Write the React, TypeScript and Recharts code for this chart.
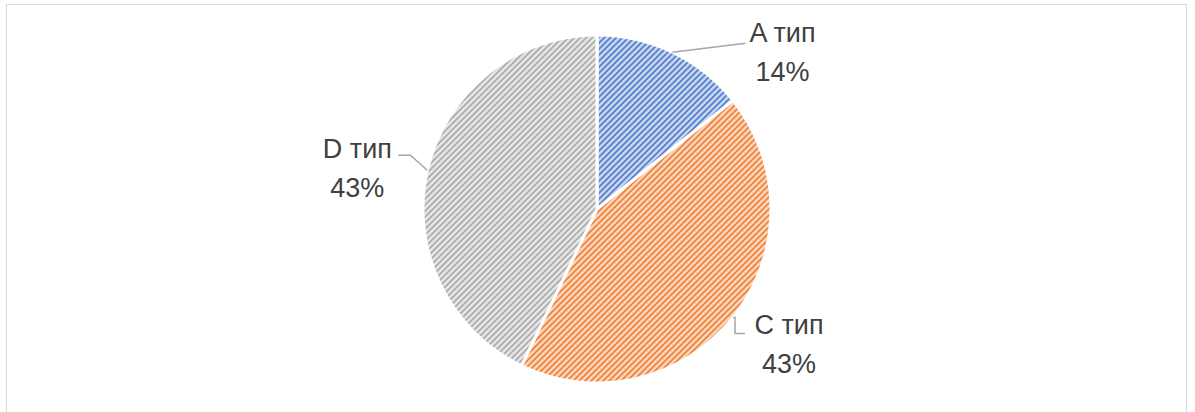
import { PieChart, Pie, Cell } from "recharts";

const categories = ["A тип", "C тип", "D тип"];
const values = [1, 3, 3];

const chartData = categories.map((name, i) => ({ name, value: values[i] }));

const fills = ["url(#hatchBlue)", "url(#hatchOrange)", "url(#hatchGray)"];

const RADIAN = Math.PI / 180;

// leader line + text placement, relative to the slice's outer edge point
const labelLayout = [
  { line: [[73, -9]], tx: 110, ty: -10 },
  { line: [[2, 0], [2, 16], [12, 16]], tx: 56, ty: 17 },
  { line: [[-17, -15], [-29, -15]], tx: -70, ty: -12 },
];

const renderLabel = (props: any) => {
  const { cx, cy, midAngle, outerRadius, index, percent, name } = props;
  const x0 = cx + outerRadius * Math.cos(-midAngle * RADIAN);
  const y0 = cy + outerRadius * Math.sin(-midAngle * RADIAN);
  const lay = labelLayout[index];
  const pts = [[0, 0], ...lay.line].map(([dx, dy]) => `${x0 + dx},${y0 + dy}`).join(" ");
  return (
    <g key={`lbl-${index}`}>
      <polyline points={pts} fill="none" stroke="#a6a6a6" strokeWidth={1.5} />
      <text
        x={x0 + lay.tx}
        y={y0 + lay.ty}
        textAnchor="middle"
        fill="#404040"
        fontSize={27}
        fontFamily="'Liberation Sans', Arial, sans-serif"
      >
        <tspan x={x0 + lay.tx}>{name}</tspan>
        <tspan x={x0 + lay.tx} dy={39}>
          {`${Math.round(percent * 100)}%`}
        </tspan>
      </text>
    </g>
  );
};

function Hatch({ id, bg, fg }: { id: string; bg: string; fg: string }) {
  return (
    <pattern id={id} width={6} height={6} patternUnits="userSpaceOnUse">
      <rect width={6} height={6} fill={bg} />
      <path
        d="M-1.5,1.5 L1.5,-1.5 M0,6 L6,0 M4.5,7.5 L7.5,4.5"
        stroke={fg}
        strokeWidth={1.8}
      />
    </pattern>
  );
}

export default function App() {
  return (
    <div
      style={{
        position: "absolute",
        left: 0,
        top: 0,
        width: 1195,
        height: 412,
        overflow: "hidden",
        background: "#fff",
      }}
    >
      <div
        style={{
          position: "absolute",
          left: 6,
          top: 4,
          width: 1179,
          height: 430,
          border: "1.5px solid #d9d9d9",
        }}
      />
      <div style={{ position: "absolute", left: 0, top: 0 }}>
        <PieChart width={1195} height={412} margin={{ top: 0, right: 0, bottom: 0, left: 0 }}>
          <defs>
            <Hatch id="hatchBlue" bg="#c9d6f0" fg="#5580cc" />
            <Hatch id="hatchOrange" bg="#fcd6bd" fg="#ef8438" />
            <Hatch id="hatchGray" bg="#e6e6e6" fg="#adadad" />
          </defs>
          <Pie
            data={chartData}
            dataKey="value"
            nameKey="name"
            cx={597}
            cy={209}
            outerRadius={174}
            startAngle={90}
            endAngle={-270}
            stroke="#ffffff"
            strokeWidth={3}
            label={renderLabel}
            labelLine={false}
            isAnimationActive={false}
          >
            {chartData.map((d, i) => (
              <Cell key={d.name} fill={fills[i]} />
            ))}
          </Pie>
        </PieChart>
      </div>
    </div>
  );
}
